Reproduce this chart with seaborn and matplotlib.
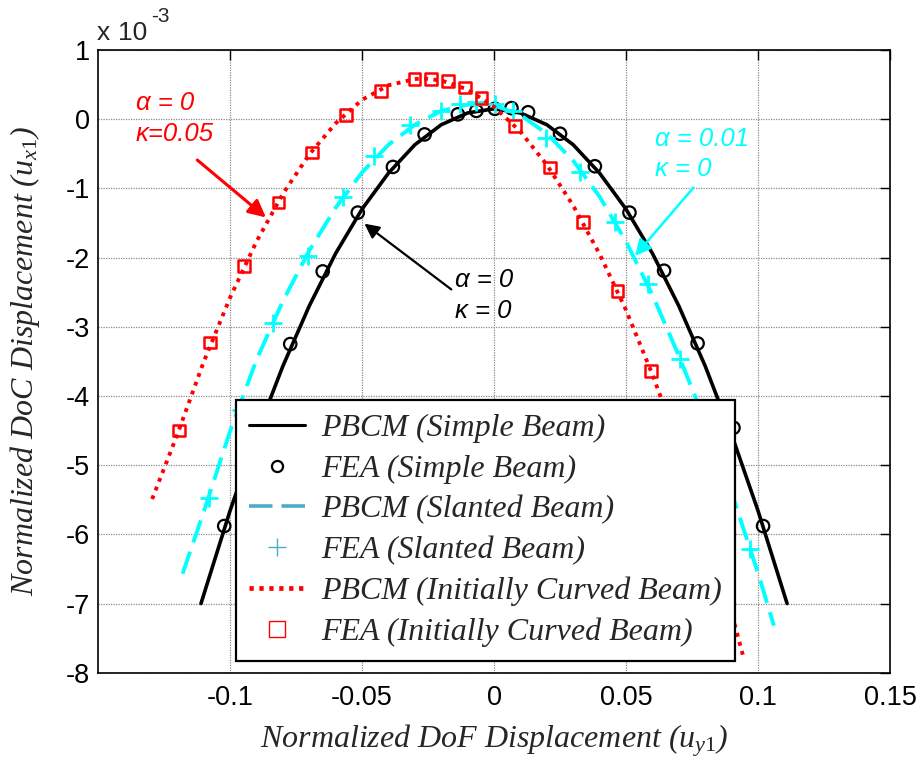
import numpy as np
import pandas as pd
import seaborn as sns
import matplotlib
matplotlib.use("Agg")
import matplotlib.pyplot as plt
from matplotlib.lines import Line2D

# ---------------- data (y values in units of 1e-3) ----------------
simple_line_x = [-0.111, -0.10, -0.09, -0.08, -0.07, -0.06, -0.05, -0.04, -0.03, -0.02, -0.01, 0.0,
                 0.01, 0.02, 0.03, 0.04, 0.05, 0.06, 0.07, 0.08, 0.09, 0.10, 0.111]
simple_line_y = [-7.0, -5.66, -4.56, -3.57, -2.70, -1.94, -1.30, -0.78, -0.37, -0.08, 0.09, 0.15,
                 0.09, -0.08, -0.37, -0.78, -1.30, -1.94, -2.70, -3.57, -4.56, -5.66, -7.0]
simple_fea_x = [-0.1022, -0.0907, -0.0772, -0.0649, -0.0516, -0.0383, -0.0263, -0.0137, -0.0067, 0.0003,
                0.0066, 0.0129, 0.0250, 0.0382, 0.0513, 0.0644, 0.0771, 0.0907, 0.1019]
simple_fea_y = [-5.88, -4.46, -3.25, -2.20, -1.35, -0.69, -0.22, 0.07, 0.12, 0.15,
                0.16, 0.10, -0.21, -0.68, -1.35, -2.19, -3.24, -4.46, -5.88]

slanted_line_x = [-0.118, -0.11, -0.10, -0.09, -0.08, -0.07, -0.06, -0.05, -0.04, -0.03, -0.02, -0.01,
                  -0.006, 0.0, 0.01, 0.02, 0.03, 0.04, 0.05, 0.06, 0.07, 0.08, 0.09, 0.10, 0.106]
slanted_line_y = [-6.57, -5.68, -4.51, -3.48, -2.63, -1.90, -1.28, -0.77, -0.37, -0.08, 0.12, 0.21,
                  0.22, 0.20, 0.06, -0.21, -0.60, -1.12, -1.77, -2.54, -3.42, -4.37, -5.40, -6.56, -7.32]
slanted_fea_x = [-0.108, -0.096, -0.0839, -0.0706, -0.0573, -0.0453, -0.032, -0.020, -0.013, -0.0067,
                 0.0003, 0.0072, 0.0195, 0.0325, 0.0458, 0.0585, 0.0705, 0.084, 0.0971]
slanted_fea_y = [-5.48, -4.20, -2.95, -1.98, -1.13, -0.53, -0.09, 0.12, 0.22, 0.25,
                 0.22, 0.12, -0.27, -0.77, -1.49, -2.38, -3.47, -4.78, -6.21]

curved_line_x = [-0.1295, -0.12, -0.11, -0.10, -0.09, -0.08, -0.07, -0.06, -0.05, -0.04, -0.03, -0.027,
                 -0.02, -0.01, 0.0, 0.01, 0.02, 0.03, 0.04, 0.05, 0.06, 0.07, 0.08, 0.09, 0.0945]
curved_line_y = [-5.49, -4.56, -3.51, -2.58, -1.77, -1.08, -0.51, -0.06, 0.28, 0.49, 0.58, 0.59,
                 0.56, 0.43, 0.18, -0.18, -0.66, -1.25, -1.95, -2.76, -3.69, -4.73, -5.88, -7.14, -7.78]
curved_fea_x = [-0.1193, -0.1076, -0.0947, -0.0816, -0.0689, -0.056, -0.0427, -0.0301, -0.0238, -0.0175,
                -0.0111, -0.0048, 0.0079, 0.0211, 0.0338, 0.0467, 0.0594, 0.072, 0.085]
curved_fea_y = [-4.50, -3.23, -2.12, -1.205, -0.48, 0.058, 0.41, 0.58, 0.58, 0.55,
                0.46, 0.31, -0.10, -0.70, -1.49, -2.48, -3.64, -4.95, -6.20]

x_ticks = [-0.1, -0.05, 0, 0.05, 0.1, 0.15]
x_tick_labels = ["-0.1", "-0.05", "0", "0.05", "0.1", "0.15"]
y_ticks = [-8, -7, -6, -5, -4, -3, -2, -1, 0, 1]
y_tick_labels = ["-8", "-7", "-6", "-5", "-4", "-3", "-2", "-1", "0", "1"]

legend_labels = ["PBCM (Simple Beam)", "FEA (Simple Beam)", "PBCM (Slanted Beam)",
                 "FEA (Slanted Beam)", "PBCM (Initially Curved Beam)", "FEA (Initially Curved Beam)"]

# ---------------- style ----------------
sns.set_theme(style="white")
plt.rcParams["font.family"] = ["Liberation Sans", "DejaVu Sans"]
plt.rcParams["mathtext.fontset"] = "custom"
plt.rcParams["mathtext.rm"] = "Liberation Serif"
plt.rcParams["mathtext.it"] = "Liberation Serif:italic"

RED = "#FF0000"
CYAN = "#00FFFF"
LEG_CYAN = "#4BACC6"

fig = plt.figure(figsize=(9.23, 7.61), dpi=100)
ax = fig.add_axes([0.1062, 0.1160, 0.8581, 0.8183])

# grid
ax.set_axisbelow(True)
ax.grid(True, color="#8c8c8c", linestyle=(0, (1, 1)), linewidth=0.9)

# simple beam
sns.lineplot(x=simple_line_x, y=simple_line_y, ax=ax, sort=False, color="black",
             linewidth=2.6, legend=False, zorder=3)
sns.scatterplot(x=simple_fea_x, y=simple_fea_y, ax=ax, marker="o", s=80,
                facecolors="none", edgecolor="black", linewidth=1.6, legend=False, zorder=4)

# slanted beam
sns.lineplot(x=slanted_line_x, y=slanted_line_y, ax=ax, sort=False, color=CYAN,
             linewidth=2.8, legend=False, zorder=5)
ax.lines[-1].set_dashes([6, 2.5])
sns.scatterplot(x=slanted_fea_x, y=slanted_fea_y, ax=ax, marker="+", s=150,
                color=CYAN, linewidth=2.0, legend=False, zorder=6)

# initially curved beam
sns.lineplot(x=curved_line_x, y=curved_line_y, ax=ax, sort=False, color=RED,
             linewidth=2.8, legend=False, zorder=7)
ax.lines[-1].set_dashes([1, 1.4])
sns.scatterplot(x=curved_fea_x, y=curved_fea_y, ax=ax, marker="s", s=70,
                facecolors="none", edgecolor=RED, linewidth=1.8, legend=False, zorder=8)

ax.set_xlim(-0.15, 0.15)
ax.set_ylim(-8, 1)
ax.set_xticks(x_ticks)
ax.set_xticklabels(x_tick_labels)
ax.set_yticks(y_ticks)
ax.set_yticklabels(y_tick_labels)
ax.tick_params(axis="both", which="both", direction="in", length=7, width=1,
               top=True, right=True, labelsize=19.5, colors="black")
ax.tick_params(axis="x", pad=9)
ax.tick_params(axis="y", pad=6)
for sp in ax.spines.values():
    sp.set_color("black")
    sp.set_linewidth(1.2)

serif_it = dict(family=["Liberation Serif", "DejaVu Serif"], style="italic", size=23)
ax.set_xlabel(r"Normalized DoF Displacement ($\mathit{u_{y1}}$)", **serif_it)
ax.set_ylabel(r"Normalized DoC Displacement ($\mathit{u_{x1}}$)", **serif_it)
ax.xaxis.set_label_coords(0.5, -0.079)
ax.yaxis.set_label_coords(-0.071, 0.5)

# exponent label
fig.text(96.5 / 923, 1 - 40 / 761, "x", fontsize=19, ha="left", va="baseline")
fig.text(117.5 / 923, 1 - 40 / 761, "10", fontsize=19, ha="left", va="baseline")
fig.text(151 / 923, 1 - 21.5 / 761, "-3", fontsize=15, ha="left", va="baseline")

# annotations
ann = dict(family=["Liberation Sans", "DejaVu Sans"], style="italic", size=18.5)
ax.text(-0.1358, 0.13, "α = 0", color=RED, ha="left", va="baseline", **ann)
ax.text(-0.1358, -0.31, "κ=0.05", color=RED, ha="left", va="baseline", **ann)
ax.annotate("", xy=(-0.0864, -1.42), xytext=(-0.1124, -0.59),
            arrowprops=dict(arrowstyle="-|>", color=RED, lw=2.2, mutation_scale=26,
                            shrinkA=0, shrinkB=0), zorder=9)

ax.text(-0.0149, -2.43, "α = 0", color="black", ha="left", va="baseline", **ann)
ax.text(-0.0149, -2.88, "κ = 0", color="black", ha="left", va="baseline", **ann)
ax.annotate("", xy=(-0.0491, -1.51), xytext=(-0.0162, -2.46),
            arrowprops=dict(arrowstyle="-|>", color="black", lw=1.6, mutation_scale=22,
                            shrinkA=0, shrinkB=0), zorder=9)

ax.text(0.061, -0.39, "α = 0.01", color=CYAN, ha="left", va="baseline", **ann)
ax.text(0.061, -0.82, "κ = 0", color=CYAN, ha="left", va="baseline", **ann)
ax.annotate("", xy=(0.0534, -1.975), xytext=(0.0755, -0.99),
            arrowprops=dict(arrowstyle="-|>", color=CYAN, lw=1.8, mutation_scale=24,
                            shrinkA=0, shrinkB=0), zorder=9)

# legend
handles = [
    Line2D([], [], color="black", linewidth=2.2),
    Line2D([], [], linestyle="none", marker="o", markersize=8, markerfacecolor="none",
           markeredgecolor="black", markeredgewidth=1.6),
    Line2D([], [], color=LEG_CYAN, linewidth=2.6, dashes=[6.5, 2.5]),
    Line2D([], [], linestyle="none", marker="+", markersize=13, color=LEG_CYAN, markeredgewidth=1.0),
    Line2D([], [], color=RED, linewidth=3.4, dashes=[0.9, 1.2]),
    Line2D([], [], linestyle="none", marker="s", markersize=11, markerfacecolor="none",
           markeredgecolor=RED, markeredgewidth=1.0),
]
leg = ax.legend(handles, legend_labels, loc="lower left", bbox_to_anchor=(0.174, 0.019),
                borderaxespad=0, frameon=True, fancybox=False, handlelength=1.75,
                handletextpad=0.5, labelspacing=0.36, borderpad=0.42,
                prop=dict(family=["Liberation Serif", "DejaVu Serif"], style="italic", size=23))
leg.get_frame().set_edgecolor("black")
leg.get_frame().set_linewidth(1.6)
leg.get_frame().set_alpha(1)
leg.set_zorder(20)

fig.savefig("out.png", dpi=100, facecolor="white")
